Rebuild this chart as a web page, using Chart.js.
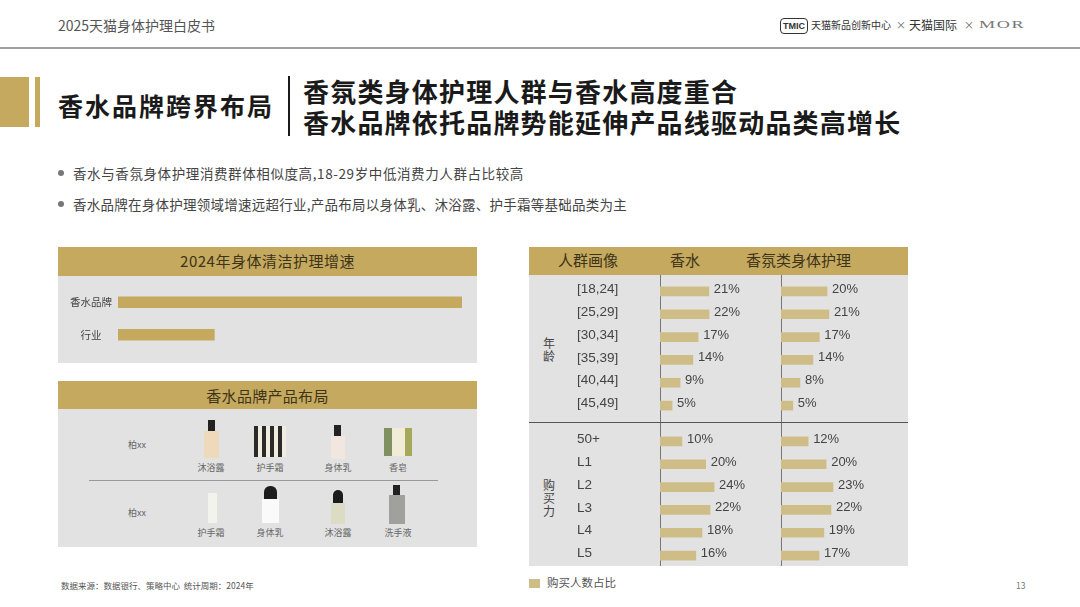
<!DOCTYPE html>
<html lang="zh">
<head>
<meta charset="utf-8">
<title>香水品牌跨界布局</title>
<script src="https://cdn.jsdelivr.net/npm/chart.js@4"></script>
<style>
html, body { margin: 0; padding: 0; background: #fff; }
body { width: 1080px; height: 607px; position: relative; overflow: hidden; font-family: "Noto Sans CJK SC", "Liberation Sans", sans-serif; color: #333; }
.a { position: absolute; }
.t { position: absolute; white-space: nowrap; line-height: 1; }
.gold { background: #c4a95f; }
.panel { background: #e2e2e2; }
.head { font-size: 15px; color: #3d3318; }
.hint { font-size: 9px; color: #666; transform: translateX(-50%); }
canvas { position: absolute; display: block; }
</style>
</head>
<body>
<!-- page header -->
<div class="t" style="left:58px;top:18px;font-size:14px;color:#555">2025天猫身体护理白皮书</div>
<div class="a" style="left:0;top:47px;width:1080px;height:2px;background:#a0a0a0"></div>
<div class="t" style="left:780px;top:18px;width:26px;height:14px;border:1.5px solid #333;border-radius:4px;font:bold 9px/14px 'Liberation Sans';text-align:center;color:#333">TMIC</div>
<div class="t" style="left:811px;top:20px;font-size:10px;color:#333">天猫新品创新中心</div>
<div class="t" style="left:896px;top:20px;font-size:10px;color:#666">×</div>
<div class="t" style="left:909px;top:19px;font-size:12px;color:#333">天猫国际</div>
<div class="t" style="left:964px;top:20px;font-size:10px;color:#666">×</div>
<div class="t" style="left:979px;top:18px;font:11px 'Liberation Serif';letter-spacing:1px;color:#777;transform:scaleX(1.65);transform-origin:left">MOR</div>

<!-- title block -->
<div class="a gold" style="left:0;top:77px;width:29px;height:50px"></div>
<div class="a gold" style="left:35px;top:77px;width:5px;height:50px"></div>
<div class="t" style="left:58px;top:93px;font-size:25px;font-weight:700;letter-spacing:2px;color:#1a1a1a">香水品牌跨界布局</div>
<div class="a" style="left:288px;top:76px;width:2px;height:60px;background:#1a1a1a"></div>
<div class="t" style="left:303px;top:75px;font-size:26px;line-height:31px;font-weight:700;letter-spacing:1.2px;color:#1a1a1a">香氛类身体护理人群与香水高度重合<br>香水品牌依托品牌势能延伸产品线驱动品类高增长</div>

<!-- bullets -->
<div class="a" style="left:58px;top:170px;width:6px;height:6px;border-radius:50%;background:#777"></div>
<div class="t" style="left:73px;top:167px;font-size:13.5px;letter-spacing:.6px;color:#444">香水与香氛身体护理消费群体相似度高,18-29岁中低消费力人群占比较高</div>
<div class="a" style="left:58px;top:201px;width:6px;height:6px;border-radius:50%;background:#777"></div>
<div class="t" style="left:73px;top:198px;font-size:13.5px;letter-spacing:.25px;color:#444">香水品牌在身体护理领域增速远超行业,产品布局以身体乳、沐浴露、护手霜等基础品类为主</div>

<!-- growth panel -->
<div class="a gold" style="left:58px;top:247px;width:419px;height:29px"></div>
<div class="a panel" style="left:58px;top:276px;width:419px;height:87px"></div>
<div class="t head" style="left:58px;width:419px;text-align:center;top:253px;letter-spacing:.5px">2024年身体清洁护理增速</div>
<canvas id="growthChart" width="396" height="65" style="left:66px;top:286px"></canvas>

<!-- product panel -->
<div class="a gold" style="left:58px;top:381px;width:419px;height:28px"></div>
<div class="a panel" style="left:58px;top:409px;width:419px;height:138px"></div>
<div class="t head" style="left:58px;width:419px;text-align:center;top:388px;letter-spacing:.3px">香水品牌产品布局</div>
<div class="t" style="left:128px;top:440px;font-size:9px;color:#666">柏xx</div>
<div class="t" style="left:128px;top:508px;font-size:9px;color:#666">柏xx</div>
<div class="a" style="left:89px;top:480px;width:349px;height:1px;background:#999"></div>

<!-- product drawings, first row -->
<div class="a" style="left:208px;top:420px;width:7px;height:11px;background:#222"></div>
<div class="a" style="left:204px;top:431px;width:15px;height:27px;background:#efd9bb"></div>
<div class="a" style="left:254px;top:426px;width:32px;height:31px;background:repeating-linear-gradient(90deg,#2a2a26 0 4px,#efece0 4px 8px)"></div>
<div class="a" style="left:334px;top:425px;width:7px;height:11px;background:#222"></div>
<div class="a" style="left:331px;top:436px;width:14px;height:23px;background:#f1e6e0"></div>
<div class="a" style="left:384px;top:428px;width:28px;height:28px;background:linear-gradient(90deg,#7f9160 0 30%,#f0ecd8 30% 75%,#a6a85a 75%)"></div>
<div class="t hint" style="left:211px;top:463px">沐浴露</div>
<div class="t hint" style="left:270px;top:463px">护手霜</div>
<div class="t hint" style="left:338px;top:463px">身体乳</div>
<div class="t hint" style="left:398px;top:463px">香皂</div>

<!-- product drawings, second row -->
<div class="a" style="left:208px;top:493px;width:9px;height:30px;background:#f3f3ee"></div>
<div class="a" style="left:264px;top:486px;width:13px;height:13px;border-radius:6px 6px 0 0;background:#1c1c1c"></div>
<div class="a" style="left:262px;top:499px;width:17px;height:24px;background:#fafafa"></div>
<div class="a" style="left:333px;top:490px;width:10px;height:13px;border-radius:5px 5px 0 0;background:#1c1c1c"></div>
<div class="a" style="left:331px;top:503px;width:14px;height:21px;background:#dcdcc4"></div>
<div class="a" style="left:393px;top:485px;width:7px;height:10px;background:#222"></div>
<div class="a" style="left:389px;top:495px;width:16px;height:29px;background:#a0a09c"></div>
<div class="t hint" style="left:211px;top:528px">护手霜</div>
<div class="t hint" style="left:270px;top:528px">身体乳</div>
<div class="t hint" style="left:338px;top:528px">沐浴露</div>
<div class="t hint" style="left:398px;top:528px">洗手液</div>

<!-- audience table -->
<div class="a gold" style="left:529px;top:247px;width:379px;height:28px"></div>
<div class="a panel" style="left:529px;top:275px;width:379px;height:291px"></div>
<div class="t head" style="left:558px;top:252px">人群画像</div>
<div class="t head" style="left:670px;top:252px">香水</div>
<div class="t head" style="left:746px;top:252px">香氛类身体护理</div>
<div class="a" style="left:660px;top:275px;width:1px;height:291px;background:#777"></div>
<div class="a" style="left:781px;top:275px;width:1px;height:291px;background:#777"></div>
<div class="a" style="left:529px;top:422px;width:379px;height:1px;background:#555"></div>
<div class="t" style="left:543px;top:336px;font-size:12px;line-height:13px;white-space:normal;width:12px;color:#444">年龄</div>
<div class="t" style="left:543px;top:478px;font-size:12px;line-height:13px;white-space:normal;width:12px;color:#444">购买力</div>
<canvas id="agePerfume" width="204" height="137" style="left:577px;top:280px"></canvas>
<canvas id="ageScent" width="127" height="137" style="left:781px;top:280px"></canvas>
<canvas id="powerPerfume" width="204" height="137" style="left:577px;top:430px"></canvas>
<canvas id="powerScent" width="127" height="137" style="left:781px;top:430px"></canvas>

<!-- legend and footer -->
<div class="a" style="left:529px;top:579px;width:11px;height:9px;background:#cfbd87"></div>
<div class="t" style="left:547px;top:577px;font-size:11.5px;color:#555">购买人数占比</div>
<div class="t" style="left:61px;top:581px;font-size:8.5px;color:#555">数据来源&#xFF1A;数据银行、策略中心&nbsp;&nbsp;统计周期&#xFF1A;2024年</div>
<div class="t" style="left:1016px;top:581px;font-size:8.5px;color:#777">13</div>

<script>
const growthLabels = ['香水品牌', '行业'];
const growthValues = [100, 28];

const ageGroups = ['[18,24]', '[25,29]', '[30,34]', '[35,39]', '[40,44]', '[45,49]'];
const agePerfumeValues = [21.4, 21.5, 16.7, 14.4, 8.8, 5.3];
const ageScentValues = [20.2, 21, 16.8, 14, 8.3, 5.2];

const powerGroups = ['50+', 'L1', 'L2', 'L3', 'L4', 'L5'];
const powerPerfumeValues = [9.6, 20, 23.7, 21.9, 18.4, 15.7];
const powerScentValues = [11.9, 19.8, 22.8, 21.9, 18.8, 16.7];

const LATIN_FONT = '"Liberation Sans", "Noto Sans CJK SC", sans-serif';
const TABLE_BAR = '#cfbd87';

// Chart.js has no data labels of its own, so write the percent at each bar end
const percentLabels = {
    id: 'percentLabels',
    afterDatasetsDraw(chart) {
        const ctx = chart.ctx;
        const values = chart.data.datasets[0].data;
        ctx.save();
        ctx.font = '13px ' + LATIN_FONT;
        ctx.fillStyle = '#444';
        ctx.textBaseline = 'middle';
        chart.getDatasetMeta(0).data.forEach((bar, i) => {
            ctx.fillText(Math.round(values[i]) + '%', bar.x + 5, bar.y - 2);
        });
        ctx.restore();
    }
};

// Fix the axis box and drop the room it keeps for its first and last label
function fitAxis(scale, width) {
    scale.width = width;
    scale.paddingTop = 0;
    scale.paddingBottom = 0;
}

function makeBars(id, labels, values, xMax, showTicks) {
    return new Chart(document.getElementById(id), {
        type: 'bar',
        data: {
            labels: labels,
            datasets: [{ data: values, backgroundColor: TABLE_BAR, barThickness: 9 }]
        },
        options: {
            indexAxis: 'y',
            responsive: false,
            animation: false,
            plugins: { legend: { display: false }, tooltip: { enabled: false } },
            scales: {
                x: { display: false, min: 0, max: xMax },
                y: {
                    display: showTicks,
                    grid: { display: false, drawTicks: false },
                    border: { display: false },
                    afterFit(scale) { fitAxis(scale, showTicks ? 83 : 0); },
                    ticks: {
                        crossAlign: 'far',
                        labelOffset: -2,
                        padding: 0,
                        color: '#444',
                        font: { family: LATIN_FONT, size: 13.5 }
                    }
                }
            }
        },
        plugins: [percentLabels]
    });
}

// Growth bars carry no printed values, only their relative length
new Chart(document.getElementById('growthChart'), {
    type: 'bar',
    data: {
        labels: growthLabels,
        datasets: [{ data: growthValues, backgroundColor: '#c4a95f', barThickness: 11 }]
    },
    options: {
        indexAxis: 'y',
        responsive: false,
        animation: false,
        plugins: { legend: { display: false }, tooltip: { enabled: false } },
        scales: {
            x: { display: false, min: 0, max: 100 },
            y: {
                grid: { display: false, drawTicks: false },
                border: { display: false },
                afterFit(scale) { fitAxis(scale, 52); },
                ticks: {
                    crossAlign: 'center',
                    padding: 6,
                    color: '#444',
                    font: { family: '"Noto Sans CJK SC", sans-serif', size: 10.5 }
                }
            }
        }
    }
});

makeBars('agePerfume', ageGroups, agePerfumeValues, 53, true);
makeBars('ageScent', ageGroups, ageScentValues, 55.7, false);
makeBars('powerPerfume', powerGroups, powerPerfumeValues, 53, true);
makeBars('powerScent', powerGroups, powerScentValues, 55.7, false);
</script>
</body>
</html>
